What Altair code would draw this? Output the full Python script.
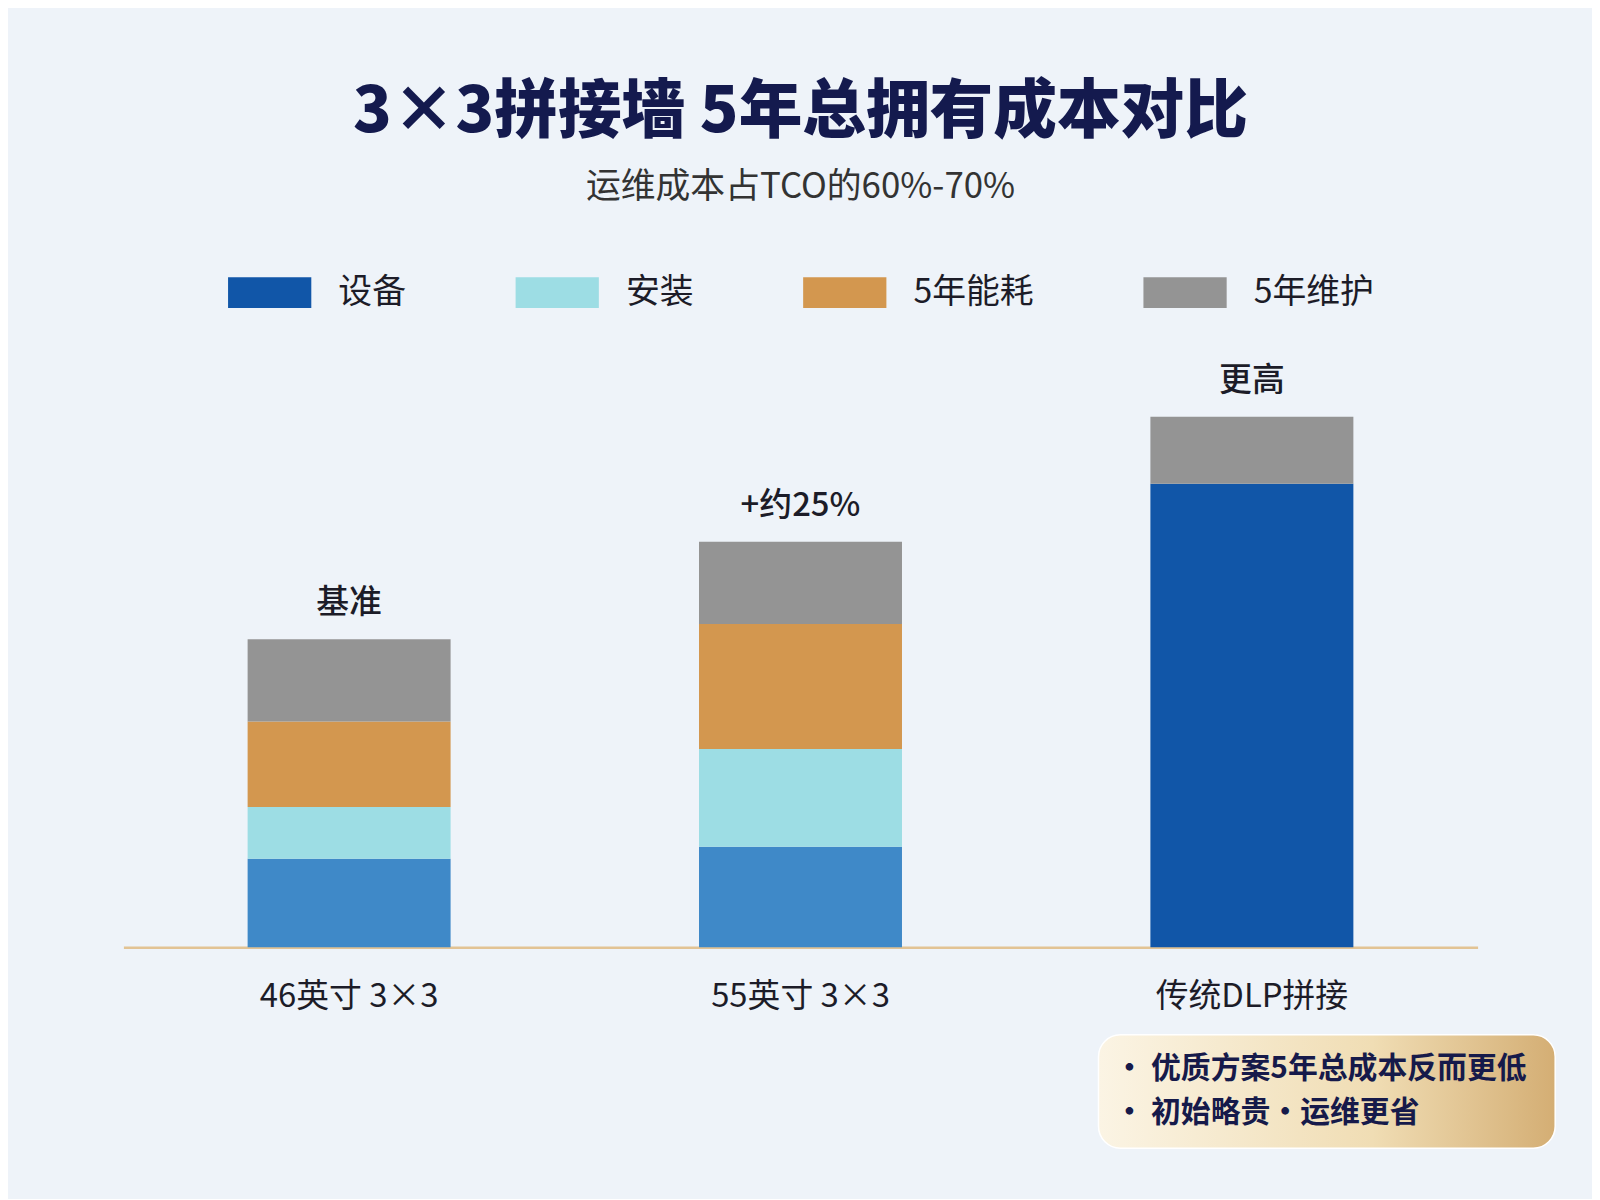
import altair as alt
import pandas as pd

# data (arbitrary cost units)
bars = ["46英寸 3×3", "55英寸 3×3", "传统DLP拼接"]
segments = ["设备", "安装", "5年能耗", "5年维护"]
equipment = [29, 33, 152]
install = [17, 32, 0]
energy = [28, 41, 0]
maintenance = [27, 27, 22]
top_labels = ["基准", "+约25%", "更高"]
notes = ["· 优质方案5年总成本反而更低", "· 初始略贵·运维更省"]

seg_colors = ["#1156a8", "#9ddde4", "#d3974f", "#949494"]
light_blue = "#3f89c8"

rows = []
for i, b in enumerate(bars):
    vals = [equipment[i], install[i], energy[i], maintenance[i]]
    for k, (s, v) in enumerate(zip(segments, vals)):
        if v == 0:
            continue
        # the two tiled walls use a lighter blue for equipment
        shade = s
        if s == "设备" and i < 2:
            shade = "设备 "
        rows.append({"bar": b, "seg": s, "shade": shade, "order": k, "value": v})
df = pd.DataFrame(rows)

tops = pd.DataFrame({
    "bar": bars,
    "value": [equipment[i] + install[i] + energy[i] + maintenance[i] for i in range(3)],
    "label": top_labels,
})

W, H = 1361, 567
FONT = "Noto Sans CJK SC"

x = alt.X("bar:N", sort=bars, title=None,
          scale=alt.Scale(paddingInner=0.55, paddingOuter=0.275),
          axis=alt.Axis(labelAngle=0, labelFontSize=33, labelColor="#1c1c28",
                        labelPadding=34, ticks=False, domainColor="#e2c394",
                        domainWidth=2.5, labelFont=FONT, labelLimit=400))
y = alt.Y("value:Q", stack="zero", title=None,
          scale=alt.Scale(domain=[0, 185], nice=False), axis=None)

stack = alt.Chart(df).mark_bar(size=204).encode(
    x=x,
    y=y,
    color=alt.Color(
        "shade:N",
        scale=alt.Scale(domain=segments + ["设备 "], range=seg_colors + [light_blue]),
        legend=alt.Legend(
            values=segments, title=None, orient="none", direction="horizontal",
            legendX=105, legendY=-133,
            symbolType="M-1,-0.37H1V0.37H-1Z", symbolSize=7000,
            symbolStrokeWidth=0, symbolOpacity=1,
            labelFontSize=34, labelFont=FONT, labelColor="#1c1c28",
            labelOffset=27, columnPadding=110, labelLimit=300,
        ),
    ),
    order=alt.Order("order:Q"),
)

labels = alt.Chart(tops).mark_text(
    dy=-36, fontSize=33, fontWeight=500, font=FONT, color="#1c1c28", baseline="middle"
).encode(
    x=alt.X("bar:N", sort=bars),
    y=alt.Y("value:Q", stack=None),
    text="label:N",
)

# annotation box below the DLP bar
box = alt.Chart(pd.DataFrame({"a": [0]})).mark_rect(
    cornerRadius=22,
    fill=alt.Gradient(
        gradient="linear", x1=0, x2=1, y1=0, y2=0,
        stops=[alt.GradientStop(color="#fbf4e4", offset=0),
               alt.GradientStop(color="#f0ddb4", offset=0.6),
               alt.GradientStop(color="#d4ae74", offset=1)],
    ),
    stroke="#ffffff", strokeWidth=1.5,
).encode(
    x=alt.value(980), x2=alt.value(1439),
    y=alt.value(H + 88), y2=alt.value(H + 202),
)

note_text = alt.Chart(pd.DataFrame({"t": ["\n".join(notes)]})).mark_text(
    align="left", baseline="middle", fontSize=30, fontWeight="bold",
    font=FONT, color="#161a4a", lineBreak="\n", lineHeight=45,
).encode(
    x=alt.value(996),
    y=alt.value(H + 122),
    text="t:N",
)

chart = alt.layer(stack, labels, box, note_text).properties(
    width=W,
    height=H,
    autosize=alt.AutoSizeParams(type="none"),
    padding={"left": 116, "top": 374, "right": 115, "bottom": 250},
    background="#eef3f9",
    title=alt.TitleParams(
        text="3×3拼接墙 5年总拥有成本对比",
        subtitle="运维成本占TCO的60%-70%",
        anchor="middle", font=FONT, fontSize=64, fontWeight=900, color="#141a4e",
        subtitleFont=FONT, subtitleFontSize=35, subtitleColor="#333333",
        subtitlePadding=25, offset=46,
    ),
).configure_view(stroke=None)

chart.save("out.html", embed_options={"renderer": "svg", "actions": False})
